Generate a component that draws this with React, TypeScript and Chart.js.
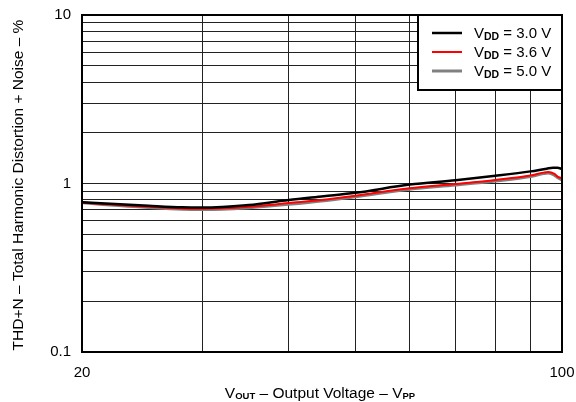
import React, { useEffect, useRef } from 'react';
import { Chart, registerables } from 'chart.js';

Chart.register(...registerables);

// ---- data ----
const voutBlack = [20, 22, 25, 28, 30, 32, 35, 40, 45, 50, 60, 70, 80, 90, 95, 97, 98.5, 100];
const thdBlack = [0.775, 0.757, 0.737, 0.722, 0.72, 0.726, 0.745, 0.798, 0.84, 0.88, 0.985, 1.045, 1.11, 1.18, 1.225, 1.24, 1.24, 1.22];
const voutRed = [20, 22, 25, 28, 30, 32, 35, 40, 45, 50, 60, 70, 80, 90, 94, 95.5, 97.5, 98.5, 100];
const thdRed = [0.772, 0.75, 0.728, 0.71, 0.708, 0.712, 0.727, 0.765, 0.8, 0.846, 0.937, 0.994, 1.05, 1.115, 1.16, 1.17, 1.14, 1.1, 1.075];
const voutGray = [20, 22, 25, 28, 30, 32, 35, 40, 45, 50, 60, 70, 80, 90, 94, 95.5, 97.5, 98.5, 100];
const thdGray = [0.77, 0.745, 0.72, 0.703, 0.7, 0.703, 0.718, 0.752, 0.79, 0.835, 0.925, 0.98, 1.035, 1.1, 1.145, 1.155, 1.12, 1.085, 1.05];

const seriesVdd = ['3.0', '3.6', '5.0'];
const seriesColors = ['#000000', '#ff0000', '#808080'];
const seriesWidths = [2.5, 2, 3];

const xTicks = [20, 30, 40, 50, 60, 70, 80, 90, 100];
const xLabelTicks = [20, 100];
const yTicks = [0.1, 0.2, 0.3, 0.4, 0.5, 0.6, 0.7, 0.8, 0.9, 1, 2, 3, 4, 5, 6, 7, 8, 9, 10];
const yLabelTicks = [0.1, 1, 10];

const FONT = '"Liberation Sans", Arial, Helvetica, sans-serif';

type Part = { t: string; sub?: boolean };

function partsWidth(ctx: CanvasRenderingContext2D, parts: Part[], size: number, subSize: number) {
  let w = 0;
  for (const p of parts) {
    ctx.font = p.sub ? `bold ${subSize}px ${FONT}` : `${size}px ${FONT}`;
    w += ctx.measureText(p.t).width;
  }
  return w;
}

function drawParts(ctx: CanvasRenderingContext2D, parts: Part[], x: number, y: number, size: number, subSize: number, subShift: number) {
  let cx = x;
  ctx.textBaseline = 'alphabetic';
  ctx.textAlign = 'left';
  for (const p of parts) {
    ctx.font = p.sub ? `bold ${subSize}px ${FONT}` : `${size}px ${FONT}`;
    ctx.fillText(p.t, cx, p.sub ? y + subShift : y);
    cx += ctx.measureText(p.t).width;
  }
}

const decorPlugin = {
  id: 'decor',
  afterDraw(chart: any) {
    const ctx: CanvasRenderingContext2D = chart.ctx;
    const a = chart.chartArea;
    ctx.save();
    // frame
    ctx.strokeStyle = '#000';
    ctx.lineWidth = 2;
    ctx.strokeRect(a.left, a.top, a.right - a.left, a.bottom - a.top);

    // legend box
    const lx = 418, ly = a.top, lw = a.right - 418, lh = 75;
    ctx.fillStyle = '#fff';
    ctx.fillRect(lx, ly, lw, lh);
    ctx.strokeStyle = '#000';
    ctx.lineWidth = 2;
    ctx.strokeRect(lx, ly, lw, lh);
    seriesVdd.forEach((v, i) => {
      const yy = ly + 18 + i * 19;
      ctx.strokeStyle = seriesColors[i];
      ctx.lineWidth = seriesWidths[i];
      ctx.beginPath();
      ctx.moveTo(432, yy);
      ctx.lineTo(462, yy);
      ctx.stroke();
      ctx.fillStyle = '#000';
      drawParts(ctx, [{ t: 'V' }, { t: 'DD', sub: true }, { t: ` = ${v} V` }], 474, yy + 5, 15, 10.5, 1.5);
    });

    // x title
    const xParts: Part[] = [
      { t: 'V' }, { t: 'OUT', sub: true }, { t: ' \u2013 Output Voltage \u2013 V' }, { t: 'PP', sub: true },
    ];
    const xw = partsWidth(ctx, xParts, 15.5, 9.5);
    ctx.fillStyle = '#000';
    drawParts(ctx, xParts, 320 - xw / 2, 398, 15.5, 9.5, 1);

    // y title
    ctx.translate(18.5, (a.top + a.bottom) / 2 + 1.5);
    ctx.rotate(-Math.PI / 2);
    ctx.font = `15.5px ${FONT}`;
    ctx.textAlign = 'center';
    ctx.textBaseline = 'middle';
    ctx.fillText('THD+N \u2013 Total Harmonic Distortion + Noise \u2013 %', 0, 0);
    ctx.restore();
  },
};

export default function App() {
  const ref = useRef<HTMLCanvasElement>(null);
  useEffect(() => {
    document.body.style.margin = '0';
    const xs = [voutBlack, voutRed, voutGray];
    const ys = [thdBlack, thdRed, thdGray];
    const chart = new Chart(ref.current!, {
      type: 'line',
      data: {
        datasets: seriesVdd.map((v, i) => ({
          label: `VDD = ${v} V`,
          data: xs[i].map((x, j) => ({ x, y: ys[i][j] })),
          borderColor: seriesColors[i],
          borderWidth: seriesWidths[i],
          pointRadius: 0,
          fill: false,
          cubicInterpolationMode: 'monotone' as const,
        })),
      },
      options: {
        animation: false,
        responsive: false,
        devicePixelRatio: 1,
        layout: { padding: { left: 0, top: 15, right: 14, bottom: 0 } },
        plugins: { legend: { display: false }, tooltip: { enabled: false } },
        scales: {
          x: {
            type: 'logarithmic',
            min: 20,
            max: 100,
            afterBuildTicks: (s: any) => { s.ticks = xTicks.map((v) => ({ value: v })); },
            afterFit: (s: any) => { s.height = 50; s.paddingLeft = 0; s.paddingRight = 0; },
            ticks: {
              autoSkip: false,
              maxRotation: 0,
              padding: 12,
              color: '#000',
              font: { family: FONT, size: 15 },
              callback: (v: any) => (xLabelTicks.includes(Number(v)) ? String(v) : ''),
            },
            grid: { color: '#222', lineWidth: 1, drawTicks: false },
            border: { display: false },
          },
          y: {
            type: 'logarithmic',
            min: 0.1,
            max: 10,
            afterBuildTicks: (s: any) => { s.ticks = yTicks.map((v) => ({ value: v })); },
            afterFit: (s: any) => { s.width = 82; s.paddingTop = 0; s.paddingBottom = 0; },
            ticks: {
              autoSkip: false,
              padding: 11,
              color: '#000',
              font: { family: FONT, size: 15 },
              callback: (v: any) => (yLabelTicks.includes(Number(v)) ? String(v) : ''),
            },
            grid: { color: '#222', lineWidth: 1, drawTicks: false },
            border: { display: false },
          },
        },
      },
      plugins: [decorPlugin],
    });
    return () => chart.destroy();
  }, []);
  return (
    <div style={{ position: 'absolute', left: 0, top: 0, width: 576, height: 402, background: '#fff' }}>
      <canvas ref={ref} width={576} height={402} style={{ width: 576, height: 402, display: 'block' }} />
    </div>
  );
}
